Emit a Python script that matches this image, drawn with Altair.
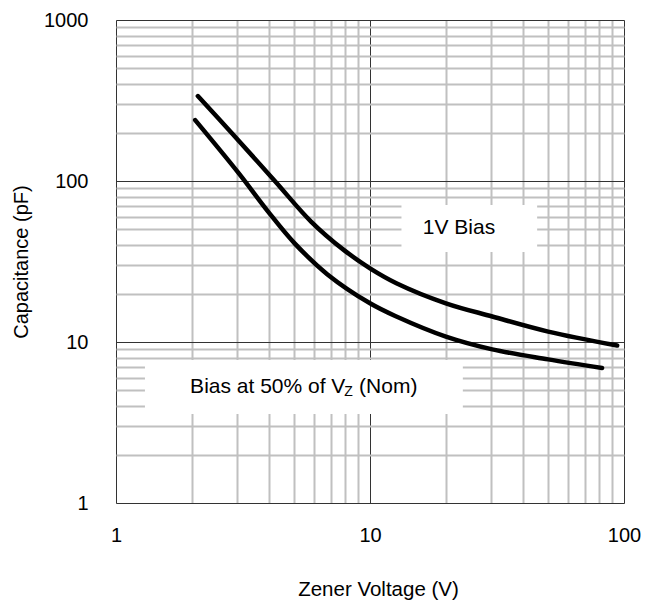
import altair as alt
import pandas as pd

# Curve values (log-log)
up_x = [2.1, 2.86, 4.22, 5.86, 7.9, 10.0, 12.7, 19.9, 30.3, 50.3, 94]
up_y = [337, 198, 100, 56, 37.2, 28.7, 23.2, 17.4, 14.4, 11.6, 9.5]
lo_x = [2.05, 3.04, 3.97, 5.05, 6.8, 10.0, 12.7, 19.9, 30.3, 50.3, 82]
lo_y = [239, 112, 64.6, 41, 26.3, 17.4, 14.4, 10.8, 9.0, 7.8, 6.9]

x_ticks = [1, 2, 3, 4, 5, 6, 7, 8, 9, 10, 20, 30, 40, 50, 60, 70, 80, 90, 100]
y_ticks = [1, 2, 3, 4, 5, 6, 7, 8, 9, 10, 20, 30, 40, 50, 60, 70, 80, 90,
           100, 200, 300, 400, 500, 600, 700, 800, 900, 1000]

# Annotation boxes (data units) and labels
box_x1 = [13.3, 1.3]
box_x2 = [45.5, 23.2]
box_y1 = [70.9, 7.73]
box_y2 = [36.2, 3.57]

lab_text = ["1V Bias", "Bias at 50% of V", "Z", "(Nom)"]
lab_x = [22.4, 1.958, 7.92, 9.06]
lab_y = [46.9, 4.84, 4.84, 4.84]
lab_align = ["center", "left", "left", "left"]
lab_size = [21, 21, 14, 21]
lab_dy = [0, 0, 3, 0]

FONT = "Liberation Sans"

lines = pd.DataFrame({
    "x": up_x + lo_x,
    "y": up_y + lo_y,
    "s": ["1V Bias"] * len(up_x) + ["50%"] * len(lo_x),
    "o": list(range(len(up_x))) + list(range(len(lo_x))),
})
boxes = pd.DataFrame({"x": box_x1, "x2": box_x2, "y": box_y1, "y2": box_y2})
labels = pd.DataFrame({"x": lab_x, "y": lab_y, "t": lab_text})

major = ("datum.value == 1 || datum.value == 10 || "
         "datum.value == 100 || datum.value == 1000")
gcol = {"condition": {"test": major, "value": "#333333"}, "value": "#c0c0c0"}
gwid = {"condition": {"test": major, "value": 1}, "value": 2}

xaxis = alt.Axis(values=x_ticks, grid=True, gridColor=gcol, gridWidth=gwid,
                 ticks=False, domain=False, labelFlush=False, labelOverlap=False,
                 labelExpr="datum.value == 1 ? '1' : datum.value == 10 ? '10' : datum.value == 100 ? '100' : ''",
                 labelFontSize=20, labelFont=FONT, labelColor="black",
                 labelPadding=22,
                 title="Zener Voltage (V)", titleFont=FONT, titleFontSize=20.5,
                 titleFontWeight="normal", titleColor="black",
                 titleX=262, titleY=92, titleBaseline="alphabetic", titleAlign="center")
yaxis = alt.Axis(values=y_ticks, grid=True, gridColor=gcol, gridWidth=gwid,
                 ticks=False, domain=False, labelFlush=False, labelOverlap=False,
                 labelExpr="datum.value == 1 ? '1' : datum.value == 10 ? '10' : datum.value == 100 ? '100' : datum.value == 1000 ? '1000' : ''",
                 labelFontSize=20, labelFont=FONT, labelColor="black",
                 labelPadding=28, labelBaseline="middle",
                 title="Capacitance (pF)", titleFont=FONT, titleFontSize=20,
                 titleFontWeight="normal", titleColor="black",
                 titleX=-89, titleY=241.5, titleAngle=-90,
                 titleBaseline="alphabetic", titleAlign="center")

xs = alt.Scale(type="log", domain=[1, 100], nice=False)
ys = alt.Scale(type="log", domain=[1, 1000], nice=False)

rects = alt.Chart(boxes).mark_rect(fill="white").encode(
    x=alt.X("x:Q", scale=xs, axis=xaxis),
    x2="x2:Q",
    y=alt.Y("y:Q", scale=ys, axis=yaxis),
    y2="y2:Q",
)

curve = alt.Chart(lines).mark_line(
    color="black", strokeWidth=4.5, strokeCap="round", strokeJoin="round",
    interpolate="catmull-rom"
).encode(
    x=alt.X("x:Q", scale=xs, axis=xaxis),
    y=alt.Y("y:Q", scale=ys, axis=yaxis),
    detail="s:N",
    order="o:Q",
)

text_layers = []
for i in range(len(lab_text)):
    text_layers.append(
        alt.Chart(labels.iloc[[i]]).mark_text(
            align=lab_align[i], baseline="alphabetic", font=FONT,
            fontSize=lab_size[i], color="black", dy=lab_dy[i]
        ).encode(
            x=alt.X("x:Q", scale=xs, axis=xaxis),
            y=alt.Y("y:Q", scale=ys, axis=yaxis),
            text="t:N",
        )
    )

chart = alt.layer(rects, curve, *text_layers).properties(
    width=508, height=483,
    autosize=alt.AutoSizeParams(type="none"),
    padding={"left": 108, "top": 12, "right": 17, "bottom": 98},
).configure_view(stroke="black", strokeWidth=1).configure(background="white")

chart.save("out.html", embed_options={"renderer": "svg", "actions": False})
